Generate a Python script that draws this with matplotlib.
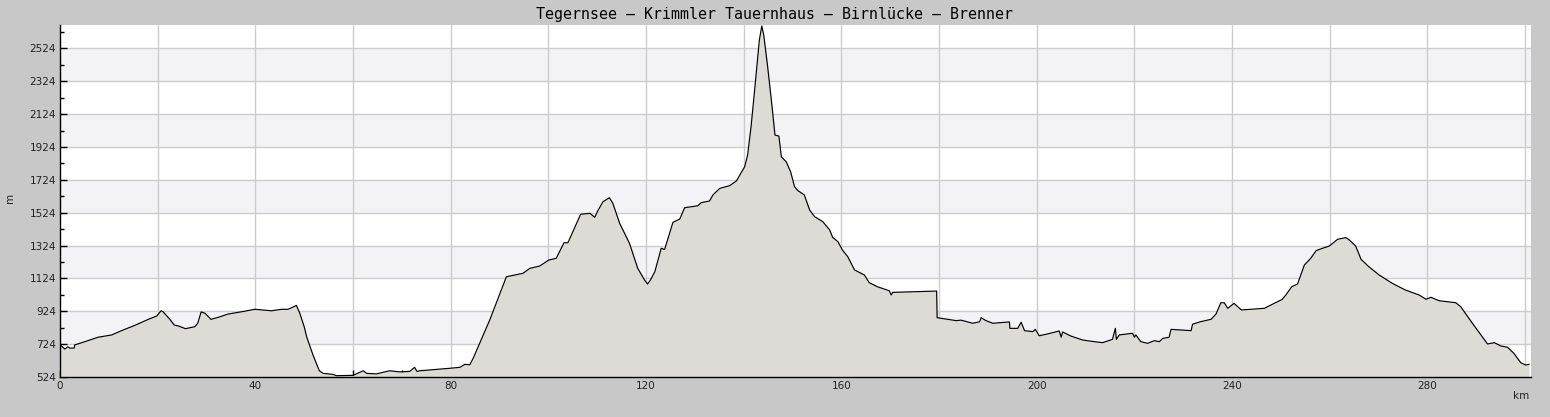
import matplotlib
matplotlib.use("Agg")
import matplotlib.pyplot as plt
import numpy as np

title = "Tegernsee – Krimmler Tauernhaus – Birnlücke – Brenner"

km = [0.0, 1.0, 1.6, 2.0, 2.9, 3.0, 5.1, 7.8, 10.6, 12.6, 15.3, 18.1, 19.8, 20.7, 21.1,
      22.5, 23.4, 24.3, 25.7, 27.6, 28.2, 28.9, 29.7, 30.9, 32.4, 34.4, 37.2, 39.9,
      43.3, 45.4, 46.7, 47.9, 48.4, 49.1, 50.0, 50.5, 51.8, 53.1, 53.9, 55.9, 56.6,
      60.0, 62.1, 62.8, 64.8, 67.5, 69.6, 71.6, 72.6, 73.1, 73.7, 79.8, 81.9, 82.9,
      83.9, 84.6, 88.0, 91.4, 94.8, 96.2, 98.2, 100.1, 101.6, 103.2, 104.0, 106.6,
      108.5, 109.5, 110.2, 111.2, 112.5, 113.2, 114.6, 116.6, 118.3, 119.7, 120.3,
      120.9, 121.8, 123.1, 123.8, 125.5, 126.9, 127.9, 130.6, 131.3, 133.0, 133.7,
      135.1, 137.1, 138.5, 140.2, 140.8, 141.5, 142.3, 143.2, 143.7, 144.1, 144.9,
      145.8, 146.4, 147.2, 147.7, 148.7, 149.6, 150.4, 151.1, 152.4, 153.5, 154.5,
      156.2, 157.6, 158.2, 159.3, 160.2, 161.3, 162.7, 164.7, 165.7, 167.4, 169.8,
      170.2, 170.5, 175.0, 179.5, 179.6, 181.4, 183.5, 184.5, 186.9, 188.3, 188.6,
      189.6, 191.0, 194.4, 194.5, 196.1, 196.8, 197.5, 199.2, 199.7, 200.5, 202.2,
      204.6, 205.0, 205.3, 207.0, 209.4, 211.8, 213.5, 215.5, 216.1, 216.3, 216.9,
      219.6, 220.0, 220.3, 221.3, 222.7, 224.1, 225.1, 225.8, 227.1, 227.5, 231.6,
      231.9, 233.6, 235.7, 236.7, 237.7, 238.4, 239.1, 240.4, 241.9, 246.6, 248.6,
      250.2, 251.0, 252.2, 253.4, 254.8, 256.1, 257.2, 258.5, 259.9, 261.6, 263.3,
      264.0, 265.3, 266.4, 268.0, 270.1, 272.8, 275.5, 278.3, 279.7, 280.7, 282.4,
      285.8, 286.8, 289.2, 292.3, 293.7, 295.0, 296.4, 297.7, 299.1, 300.1, 300.8]

elev = [720, 694, 708, 700, 700, 719, 739, 766, 780, 806, 838, 875, 895, 927, 921,
        875, 840, 834, 818, 830, 851, 920, 912, 875, 887, 907, 921, 936,
        927, 936, 936, 952, 960, 912, 830, 769, 658, 562, 546, 540, 532,
        534, 562, 546, 543, 562, 555, 558, 583, 558, 562, 577, 583, 601,
        598, 638, 871, 1134, 1155, 1185, 1199, 1236, 1246, 1341, 1341, 1514,
        1520, 1496, 1540, 1591, 1615, 1581, 1459, 1338, 1185, 1114, 1090,
        1114, 1165, 1307, 1300, 1465, 1485, 1554, 1566, 1585, 1595, 1632,
        1672, 1688, 1717, 1804, 1875, 2047, 2291, 2575, 2660, 2605, 2412,
        2169, 1996, 1990, 1864, 1834, 1773, 1682, 1658, 1632, 1540, 1500,
        1469, 1419, 1374, 1347, 1297, 1256, 1175, 1145, 1098, 1073, 1049,
        1023, 1039, 1043, 1047, 885, 877, 867, 870, 851, 860, 885,
        867, 851, 859, 820, 820, 857, 806, 800, 814, 775, 786,
        804, 766, 798, 773, 749, 739, 733, 753, 820, 753, 780,
        790, 766, 780, 739, 729, 745, 739, 759, 766, 814, 806,
        845, 861, 875, 907, 976, 976, 942, 972, 932, 942, 972,
        995, 1023, 1073, 1090, 1206, 1246, 1293, 1307, 1321, 1362, 1372,
        1358, 1321, 1240, 1195, 1145, 1094, 1053, 1023, 997, 1009, 988,
        976, 952, 851, 725, 733, 713, 705, 668, 611, 597, 601]

y_ticks = [524, 724, 924, 1124, 1324, 1524, 1724, 1924, 2124, 2324, 2524]
x_ticks = [0, 40, 80, 120, 160, 200, 240, 280]

bg = "#c8c8c8"
fig = plt.figure(figsize=(15.5, 4.17), dpi=100, facecolor=bg)
ax = fig.add_axes([60/1550, 40/417, (1531-60)/1550, (377-25)/417])
ax.set_facecolor("white")

ymin, ymax = 524, 2666
xmax = 301.2
ax.set_xlim(0, xmax)
ax.set_ylim(ymin, ymax)

# alternating bands
for i in range(len(y_ticks) - 1):
    if i % 2 == 1:
        ax.axhspan(y_ticks[i], y_ticks[i + 1], color="#f3f2f5", zorder=0, lw=0)

ax.set_yticks(y_ticks)
ax.set_yticks(np.arange(624, ymax, 200), minor=True)
ax.set_xticks(x_ticks)
ax.set_xticks(np.arange(0, xmax, 10), minor=True)

for y in y_ticks:
    ax.axhline(y, color="#cccccc", lw=1, zorder=1)
for x in np.arange(20, xmax, 20):
    ax.axvline(x, color="#cccccc", lw=1, zorder=1)

ax.fill_between(km, elev, ymin, color="#dcdbd6", zorder=2, lw=0)
ax.plot(km, elev, color="black", lw=0.85, zorder=3)

for s in ["top", "right"]:
    ax.spines[s].set_visible(False)
for s in ["left", "bottom"]:
    ax.spines[s].set_color("black")
    ax.spines[s].set_linewidth(1.0)
    ax.spines[s].set_zorder(4)

ax.tick_params(axis="both", which="major", direction="in", length=5, width=1,
               labelsize=7.5, colors="black", labelcolor="#222222", pad=3)
ax.tick_params(axis="both", which="minor", direction="in", length=3, width=1,
               colors="black")
ax.tick_params(axis="x", which="both", length=5)

fig.text(774/1550, 1 - 14/417, title, ha="center", va="center",
         family="DejaVu Sans Mono", fontsize=10.8, color="black")
fig.text(10/1550, 1 - 198/417, "m", ha="center", va="center", rotation=90,
         fontsize=7.5, color="#222222")
fig.text(1521/1550, 1 - 396/417, "km", ha="center", va="center",
         fontsize=7.5, color="#222222")

fig.savefig("out.png", dpi=100, facecolor=bg)
